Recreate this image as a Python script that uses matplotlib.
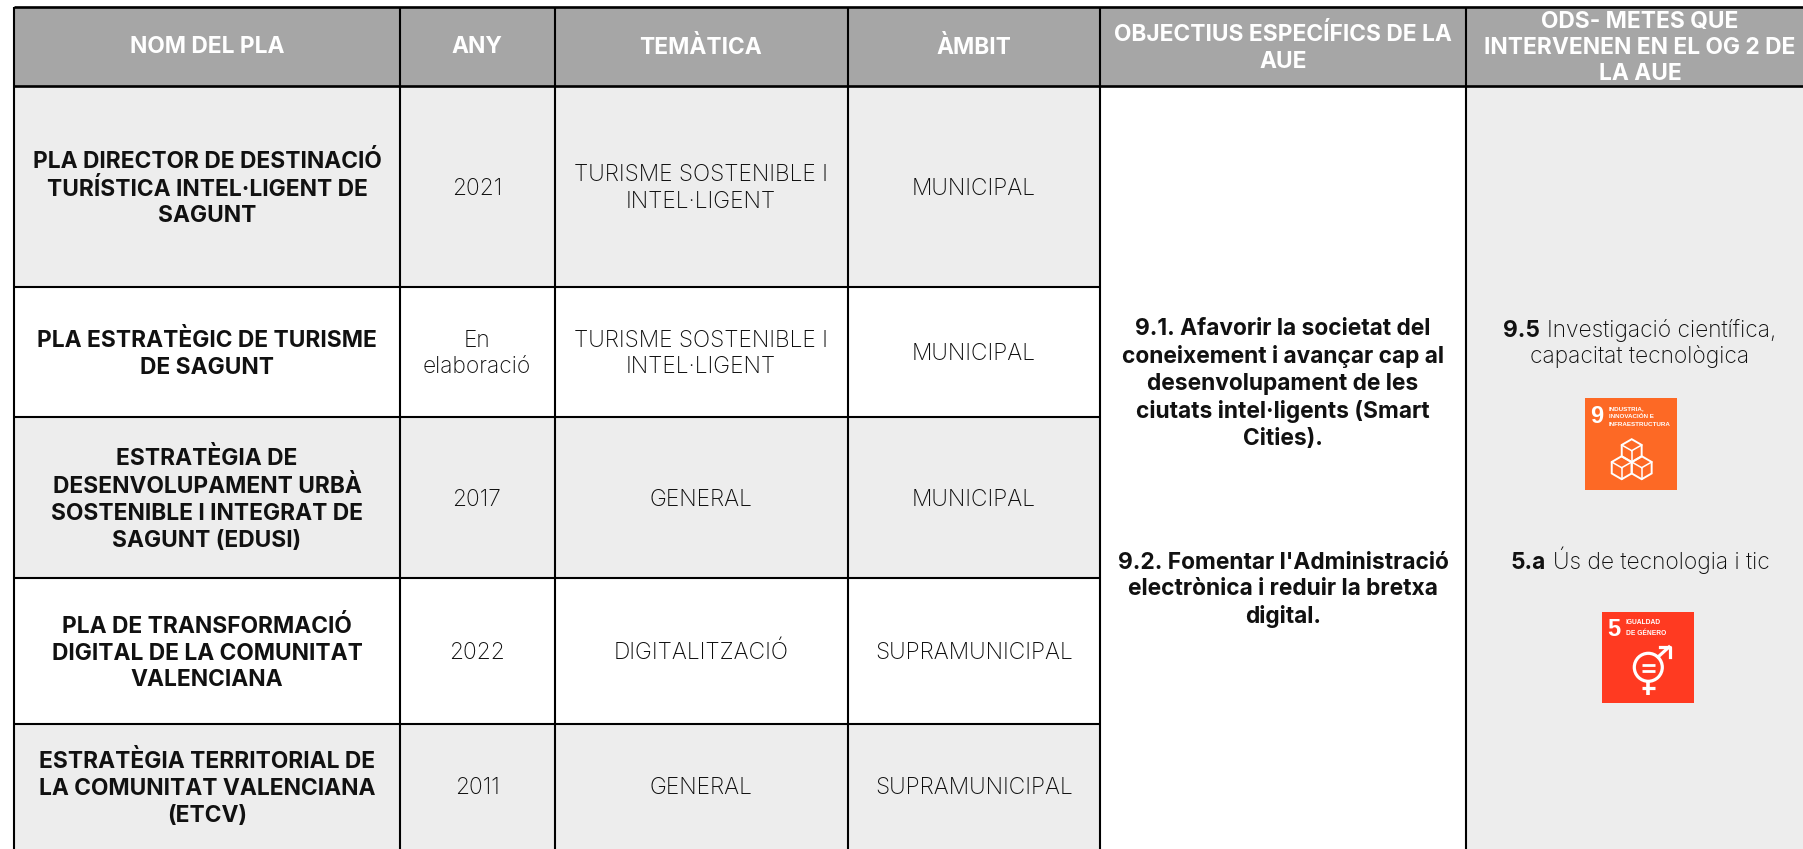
import matplotlib
matplotlib.use("Agg")
import matplotlib.pyplot as plt
from matplotlib.patches import Rectangle, RegularPolygon, Circle

FONT = "Inter"
SMALL = ["Liberation Sans", "DejaVu Sans"]
W, H = 1803, 849

# table contents
headers = ["NOM DEL PLA", "ANY", "TEMÀTICA", "ÀMBIT",
           "OBJECTIUS ESPECÍFICS DE LA\nAUE",
           "ODS- METES QUE\nINTERVENEN EN EL OG 2 DE\nLA AUE"]
plans = ["PLA DIRECTOR DE DESTINACIÓ\nTURÍSTICA INTEL·LIGENT DE\nSAGUNT",
         "PLA ESTRATÈGIC DE TURISME\nDE SAGUNT",
         "ESTRATÈGIA DE\nDESENVOLUPAMENT URBÀ\nSOSTENIBLE I INTEGRAT DE\nSAGUNT (EDUSI)",
         "PLA DE TRANSFORMACIÓ\nDIGITAL DE LA COMUNITAT\nVALENCIANA",
         "ESTRATÈGIA TERRITORIAL DE\nLA COMUNITAT VALENCIANA\n(ETCV)"]
years = ["2021", "En\nelaboració", "2017", "2022", "2011"]
themes = ["TURISME SOSTENIBLE I\nINTEL·LIGENT", "TURISME SOSTENIBLE I\nINTEL·LIGENT",
          "GENERAL", "DIGITALITZACIÓ", "GENERAL"]
scopes = ["MUNICIPAL", "MUNICIPAL", "MUNICIPAL", "SUPRAMUNICIPAL", "SUPRAMUNICIPAL"]
objective_1 = "9.1. Afavorir la societat del\nconeixement i avançar cap al\ndesenvolupament de les\nciutats intel·ligents (Smart\nCities)."
objective_2 = "9.2. Fomentar l'Administració\nelectrònica i reduir la bretxa\ndigital."

# grid, in pixels of the picture
col_edges = [14, 400, 555, 848, 1100, 1466, 1803]
col_centers = [207, 477, 701, 974, 1283, 1640]
row_edges = [7, 86, 287, 417, 578, 724, 849]

GREY = "#A6A6A6"
LIGHT = "#EDEDED"
INK = "#0D0D0D"
BODY = 16.4
LIGHTW = "light"
PITCH = 1.28

fig = plt.figure(figsize=(W / 100, H / 100), dpi=100)
ax = fig.add_axes([0, 0, 1, 1])
ax.set_xlim(0, W)
ax.set_ylim(H, 0)
ax.axis("off")

# fills
ax.add_patch(Rectangle((14, 7), W - 14, 79, color=GREY, lw=0))
for i in (0, 2, 4):
    ax.add_patch(Rectangle((14, row_edges[i + 1]), 1100 - 14,
                           row_edges[i + 2] - row_edges[i + 1], color=LIGHT, lw=0))
ax.add_patch(Rectangle((1466, 86), W - 1466, H - 86, color=LIGHT, lw=0))

# grid lines
for y in row_edges[:2]:
    ax.plot([14, W], [y, y], color="black", lw=1.9, solid_capstyle="butt")
for y in row_edges[2:-1]:
    ax.plot([14, 1100], [y, y], color="black", lw=1.5, solid_capstyle="butt")
for x in col_edges[:-1]:
    ax.plot([x, x], [7, H], color="black", lw=1.5, solid_capstyle="butt")

# header
header_y = [47, 47, 47, 47, 48, 48]
for cx, cy, t in zip(col_centers, header_y, headers):
    ax.text(cx, cy, t, ha="center", va="center", color="white", family=FONT,
            fontweight="bold", fontsize=BODY, linespacing=1.24)

# body
for i in range(5):
    cy = (row_edges[i + 1] + row_edges[i + 2]) / 2 + 2
    ax.text(col_centers[0], cy, plans[i], ha="center", va="center", color="#111111",
            family=FONT, fontweight="bold", fontsize=BODY, linespacing=PITCH)
    for cx, vals in zip(col_centers[1:4], (years, themes, scopes)):
        ax.text(cx, cy, vals[i], ha="center", va="center", color=INK, family=FONT,
                fontweight=LIGHTW, fontsize=BODY, linespacing=PITCH)

ax.text(1283, 384, objective_1, ha="center", va="center", color="#111111", family=FONT,
        fontweight="bold", fontsize=BODY, linespacing=PITCH)
ax.text(1283, 590, objective_2, ha="center", va="center", color="#111111", family=FONT,
        fontweight="bold", fontsize=BODY, linespacing=PITCH)


def mixed(cx, cy, bold, rest):
    r = fig.canvas.get_renderer()
    a = ax.text(0, cy, bold, va="baseline", ha="left", family=FONT, fontweight="bold",
                fontsize=BODY, color="#111111")
    b = ax.text(0, cy, rest, va="baseline", ha="left", family=FONT, fontweight=LIGHTW,
                fontsize=BODY, color=INK)
    wa = a.get_window_extent(r).width + 7
    wb = b.get_window_extent(r).width
    a.set_x(cx - (wa + wb) / 2)
    b.set_x(cx - (wa + wb) / 2 + wa)


mixed(1640, 337, "9.5", "Investigació científica,")
ax.text(1640, 363, "capacitat tecnològica", ha="center", va="baseline", color=INK,
        family=FONT, fontweight=LIGHTW, fontsize=BODY)
mixed(1640, 569, "5.a", "Ús de tecnologia i tic")

# ODS 9 icon
ax.add_patch(Rectangle((1585, 398), 92, 92, color="#FD6925", lw=0))
ax.text(1597, 416, "9", ha="center", va="center", color="white", family=SMALL,
        fontweight="bold", fontsize=17)
ax.text(1609, 406, "INDUSTRIA,\nINNOVACIÓN E\nINFRAESTRUCTURA", ha="left", va="top",
        color="white", family=SMALL, fontweight="bold", fontsize=4.5, linespacing=1.75)
for cx, cy in [(1631.7, 450.7), (1621.7, 467.7), (1641.7, 467.7)]:
    ax.add_patch(RegularPolygon((cx, cy), 6, radius=11.5, fill=False, ec="white", lw=1.4))
    for dx, dy in [(0, 11.5), (-10, -5.7), (10, -5.7)]:
        ax.plot([cx, cx + dx], [cy, cy + dy], color="white", lw=1.1)

# ODS 5 icon
ax.add_patch(Rectangle((1602, 612), 92, 91, color="#FF3A21", lw=0))
ax.text(1614, 629, "5", ha="center", va="center", color="white", family=SMALL,
        fontweight="bold", fontsize=17)
ax.text(1626, 619, "IGUALDAD\nDE GÉNERO", ha="left", va="top", color="white",
        family=SMALL, fontweight="bold", fontsize=4.8, linespacing=1.75)
ax.add_patch(Circle((1648.3, 667.3), 14, fill=False, ec="white", lw=2.3))
ax.plot([1658, 1669], [657, 647], color="white", lw=2.3)
ax.plot([1660, 1669.5, 1669.5], [647, 647, 657], color="white", lw=2.3)
ax.plot([1648.3, 1648.3], [681, 695], color="white", lw=2.6, solid_capstyle="butt")
ax.plot([1641.5, 1655], [688, 688], color="white", lw=2.3, solid_capstyle="butt")
for y in (664.5, 670.5):
    ax.plot([1642, 1655], [y, y], color="white", lw=2.0, solid_capstyle="butt")

fig.savefig("out.png", dpi=100, facecolor="white")
